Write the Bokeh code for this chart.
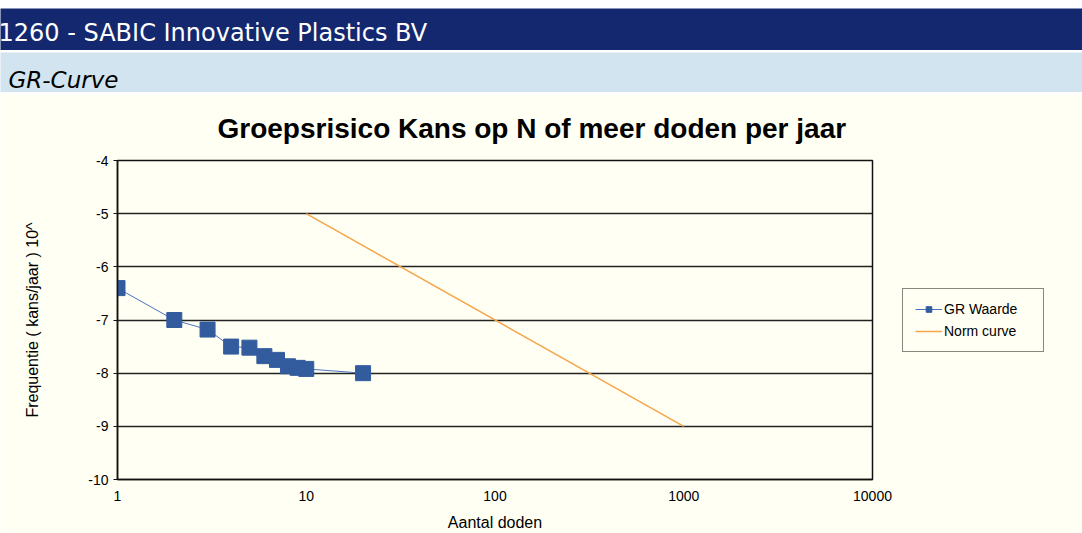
from bokeh.plotting import figure
from bokeh.models import Range1d, FixedTicker, Legend, LegendItem
from bokeh.layouts import column
from bokeh.embed import file_html
from bokeh.resources import INLINE
from bokeh.core.properties import value

# ---- data ----
header_text = ["1260 - SABIC Innovative Plastics BV"]
section_text = ["GR-Curve"]
title_text = "Groepsrisico Kans op N of meer doden per jaar"
x_label = "Aantal doden"
y_label = "Frequentie ( kans/jaar ) 10^"

gr_n = [1, 2, 3, 4, 5, 6, 7, 8, 9, 10, 20]
gr_freq = [-6.4, -7.0, -7.18, -7.5, -7.52, -7.68, -7.75, -7.87, -7.9, -7.92, -8.0]
norm_n = [10, 1000]
norm_freq = [-5, -9]

x_ticks = [1, 10, 100, 1000, 10000]
x_tick_labels = ["1", "10", "100", "1000", "10000"]
y_ticks = [-10, -9, -8, -7, -6, -5, -4]
y_tick_labels = ["-10", "-9", "-8", "-7", "-6", "-5", "-4"]

legend_labels = ["GR Waarde", "Norm curve"]

NAVY = "#13286F"
LIGHT = "#D1E4EF"
CREAM = "#FFFFF3"
W = 1082


def header(height, bg, txt, color, size, style, base_y, xoff):
    f = figure(width=W, height=height, x_range=Range1d(0, 1),
               y_range=Range1d(0, height), toolbar_location=None,
               output_backend="svg", min_border=0,
               x_axis_location=None, y_axis_location=None)
    f.frame_align = False
    f.grid.visible = False
    f.outline_line_color = None
    f.background_fill_color = bg
    f.border_fill_color = bg
    f.text(x=[0], y=[base_y], text=txt, text_color=color,
           text_font=value("DejaVu Sans"), text_font_size=size,
           text_font_style=style, text_baseline="alphabetic",
           text_align="left", x_offset=xoff)
    return f


h1 = header(42, NAVY, header_text, "white", "24px", "normal", 18, -2)
h2 = header(40, LIGHT, section_text, "black", "23px", "italic", 13, 8)

# ---- main chart ----
p = figure(frame_width=755, frame_height=319, x_axis_type="log",
           x_range=Range1d(1, 10000), y_range=Range1d(-10, -4),
           toolbar_location=None, output_backend="svg",
           min_border_left=117, min_border_right=210,
           min_border_top=66, min_border_bottom=54)
p.frame_align = False
p.background_fill_color = CREAM
p.border_fill_color = CREAM
p.outline_line_color = "#111111"
p.outline_line_width = 1.5

p.title.text = title_text
p.title.align = "left"
p.title.offset = 100
p.title.text_font = "Liberation Sans"
p.title.text_font_size = "28px"
p.title.text_font_style = "bold"
p.title.text_color = "black"
p.title.standoff = 33

for ax in (p.xaxis[0], p.yaxis[0]):
    ax.axis_line_color = "#111111"
    ax.axis_line_width = 1.5
    ax.major_tick_line_color = "#111111"
    ax.major_tick_out = 4
    ax.major_tick_in = 0
    ax.minor_tick_line_color = None
    ax.major_label_text_font = "Liberation Sans"
    ax.major_label_text_font_size = "14px"
    ax.major_label_text_color = "black"
    ax.axis_label_text_font = "Liberation Sans"
    ax.axis_label_text_font_size = "16px"
    ax.axis_label_text_font_style = "normal"
    ax.axis_label_text_color = "black"

p.xaxis.ticker = FixedTicker(ticks=x_ticks)
p.xaxis.major_label_overrides = dict(zip(x_ticks, x_tick_labels))
p.xaxis.major_tick_line_color = None
p.xaxis.major_label_standoff = 7
p.xaxis.axis_label = x_label
p.xaxis.axis_label_standoff = 10

p.yaxis.ticker = FixedTicker(ticks=y_ticks)
p.yaxis.major_label_overrides = dict(zip(y_ticks, y_tick_labels))
p.yaxis.major_label_standoff = 5
p.yaxis.axis_label = y_label
p.yaxis.axis_label_standoff = 44

p.xgrid.visible = False
p.ygrid.ticker = FixedTicker(ticks=y_ticks)
p.ygrid.grid_line_color = "#222222"
p.ygrid.grid_line_width = 1.5

gr_line = p.line(gr_n, gr_freq, line_color="#4A74C0", line_width=1)
gr_pts = p.scatter(gr_n, gr_freq, marker="square", size=15,
                   fill_color="#335C9E", line_color="#335C9E")
norm = p.line(norm_n, norm_freq, line_color="#F5A64C", line_width=1.5)

legend = Legend(items=[LegendItem(label=legend_labels[0], renderers=[gr_line, gr_pts]),
                       LegendItem(label=legend_labels[1], renderers=[norm])],
                location="left")
legend.border_line_color = "#111111"
legend.border_line_width = 1.2
legend.background_fill_color = CREAM
legend.background_fill_alpha = 1
legend.label_text_font = "Liberation Sans"
legend.label_text_font_size = "14px"
legend.label_text_color = "black"
legend.glyph_width = 27
legend.glyph_height = 14
legend.label_height = 14
legend.label_width = 87
legend.label_standoff = 2
legend.padding = 12
legend.spacing = 6
legend.margin = 30
p.add_layout(legend, "right")

layout = column(h1, h2, p, spacing=2, margin=(8, 0, 0, 0))

html = file_html(layout, INLINE)
html = html.replace("</head>", "<style>html,body{overflow:hidden;}</style></head>")
open("out.html", "w").write(html)
